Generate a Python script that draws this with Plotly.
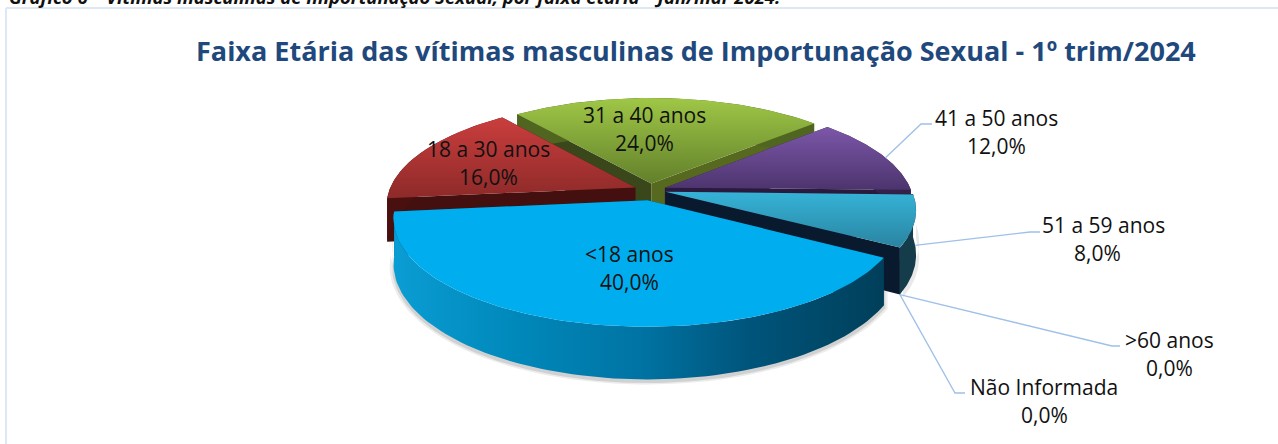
import math
import numpy as np
import plotly.graph_objects as go

# ---- data ----
categories = ["<18 anos", "18 a 30 anos", "31 a 40 anos", "41 a 50 anos", "51 a 59 anos", ">60 anos", "Não Informada"]
values = [40.0, 16.0, 24.0, 12.0, 8.0, 0.0, 0.0]
title = "Faixa Etária das vítimas masculinas de Importunação Sexual - 1º trim/2024"
caption = "Gráfico 6 – Vítimas masculinas de Importunação Sexual, por faixa etária – Jan/mar 2024."

# ---- styling / layout ----
first_angle = 120.0
pulls = [0.10, 0.065, 0.065, 0.065, 0.065, 0.0, 0.0]
pull_turn = [-6.0, 0.0, 0.0, 0.0, 0.0, 0.0, 0.0]
draw_order = [2, 1, 3, 4, 0]
top_colors = [("#00aeef", "#00aeef"), ("#ca3e3d", "#8d2a29"), ("#9fc746", "#62802b"),
              ("#7c57a9", "#4c346d"), ("#35b3d7", "#2a84a1")]
rim_colors = ["#00517a", "#4a100f", "#4f6520", "#33234a", "#143c4a"]
cut_start = ["#003f58", "#43100f", "#39471a", "#2a1a3e", "#2c1c40"]
cut_end = ["#003f58", "#43100f", "#56691f", "#2a1a3e", "#0a1a2e"]
label_pos = {0: (629, 254), 1: (488, 149), 2: (644, 115), 3: (996, 118), 4: (1103, 225), 5: (1169, 340), 6: (1044, 387)}
leaders = {3: [(921, 124), (932, 124)], 4: [(1030, 232), (1040, 232)], 5: [(1112, 346), (1120, 346)], 6: [(955, 393), (965, 393)]}
leader_from = {3: (3, 0.55, 0.0), 4: (4, 0.5, 0.55), 5: (4, 1.0, 1.0), 6: (4, 1.0, 1.0)}
CX, CY, SX, SY, P, H = 650.0, 190.0, 246.0, 101.7, 0.166, 43.0
FONT = "Open Sans"

total = sum(values)
spans = [v / total * 360 for v in values]
starts = [first_angle + sum(spans[:i]) for i in range(len(values))]


def proj(X, Z, h=0.0):
    den = 1 - P * Z
    return CX + SX * X / den, CY + (SY * Z + H * h) / den


def offset(i):
    mid = math.radians(starts[i] + spans[i] / 2 + pull_turn[i])
    return pulls[i] * math.sin(mid), -pulls[i] * math.cos(mid)


def rim(i, h=0.0, a=None, b=None, grow=0.0):
    a = starts[i] if a is None else a
    b = starts[i] + spans[i] if b is None else b
    ox, oz = offset(i)
    th = np.radians(np.linspace(a, b, 90))
    pts = [proj(ox + (1 + grow) * math.sin(t), oz - (1 + grow) * math.cos(t), h) for t in th]
    return [p[0] for p in pts], [p[1] for p in pts]


def apex(i, h=0.0):
    ox, oz = offset(i)
    return proj(ox, oz, h)


fig = go.Figure()


def poly(xs, ys, color=None, grad=None):
    xs = list(xs) + [xs[0]]
    ys = list(ys) + [ys[0]]
    kw = dict(fillcolor=color) if grad is None else dict(fillgradient=grad)
    fig.add_trace(go.Scatter(x=xs, y=ys, mode="lines", fill="toself", line=dict(width=0, color="rgba(0,0,0,0)"),
                             hoverinfo="skip", showlegend=False, **kw))


# soft shadow under the body
for i, g, al, h0 in [(0, 1.015, 0.10, 0.6), (0, 1.006, 0.16, 0.6), (4, 1.012, 0.12, 0.7)]:
    x1, y1 = rim(i, h0, grow=g - 1)
    x2, y2 = rim(i, 1.05, grow=g - 1)
    poly(x1 + x2[::-1], y1 + y2[::-1], f"rgba(70,70,70,{al})")

for i in draw_order:
    ax, ay = apex(i)
    bx, by = apex(i, 1.0)
    x1, y1 = rim(i)
    x2, y2 = rim(i, 1.0)
    # two cut faces
    poly([ax, x1[0], x2[0], bx], [ay, y1[0], y2[0], by], cut_start[i])
    poly([ax, x1[-1], x2[-1], bx], [ay, y1[-1], y2[-1], by], cut_end[i])
    # outer wall
    if i == 0:
        grad = dict(type="horizontal", colorscale=[[0, "#0a9dd3"], [0.25, "#0088ba"], [0.5, "#0074a4"],
                                                    [0.72, "#00557c"], [1, "#003f5a"]])
        poly(x1 + x2[::-1], y1 + y2[::-1], grad=grad)
    else:
        poly(x1 + x2[::-1], y1 + y2[::-1], rim_colors[i])
    # top face
    c1, c2 = top_colors[i]
    if c1 == c2:
        poly([ax] + x1, [ay] + y1, c1)
    else:
        poly([ax] + x1, [ay] + y1, grad=dict(type="vertical", colorscale=[[0, c2], [1, c1]]))

# leader lines
for k, tail in leaders.items():
    i, frac, h = leader_from[k]
    a = starts[i] + spans[i] * frac
    x, y = rim(i, h, a, a)
    fig.add_trace(go.Scatter(x=[x[0]] + [t[0] for t in tail], y=[y[0]] + [t[1] for t in tail], mode="lines",
                             line=dict(color="#9fc0e8", width=1.3), hoverinfo="skip", showlegend=False))


def note(x, y, text, size, **kw):
    kw.setdefault("xanchor", "center")
    kw.setdefault("color", "#111111")
    col = kw.pop("color")
    fam = kw.pop("family", FONT)
    fig.add_annotation(x=x, y=y, text=text, showarrow=False, yanchor="middle", align="center",
                       font=dict(family=fam, size=size, color=col), **kw)


for i, (c, v) in enumerate(zip(categories, values)):
    x, y = label_pos[i]
    note(x, y, c.replace("<", "&lt;"), 21)
    note(x - (6 if i == 4 else 0), y + 27.5, f"{v:.1f}".replace(".", ",") + "%", 21)

note(696, 50, f"<b>{title}</b>", 27, color="#1f497d")
note(7, 0, f"<b><i>{caption}</i></b>", 18.5, xanchor="left", color="#111111", yshift=4)

# frame
fig.add_shape(type="line", x0=6, x1=6, y0=8, y1=444, line=dict(color="#dce8f4", width=2))
fig.add_shape(type="line", x0=6, x1=1278, y0=8, y1=8, line=dict(color="#dce8f4", width=2))

fig.update_layout(width=1278, height=444, margin=dict(l=0, r=0, t=0, b=0), paper_bgcolor="white",
                  plot_bgcolor="white", showlegend=False,
                  xaxis=dict(range=[0, 1278], visible=False, fixedrange=True),
                  yaxis=dict(range=[444, 0], visible=False, fixedrange=True))
fig.write_html("out.html", config={"displayModeBar": False},
               post_script="document.body.style.margin='0';document.body.style.padding='0';document.body.style.overflow='hidden';")
